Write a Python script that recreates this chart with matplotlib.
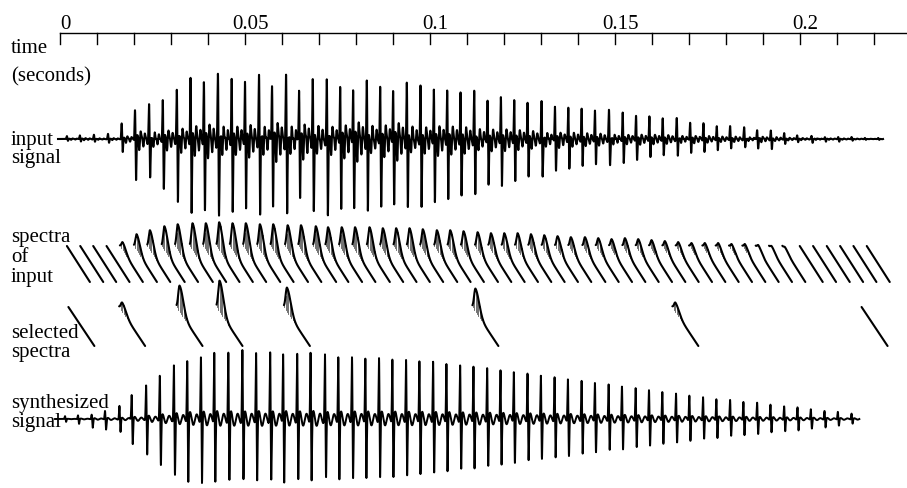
import matplotlib.pyplot as plt
import numpy as np

# time axis
major_ticks = [0, 0.05, 0.1, 0.15, 0.2]
tick_labels = ["0", "0.05", "0.1", "0.15", "0.2"]
minor_ticks = [0.00, 0.01, 0.02, 0.03, 0.04, 0.05, 0.06, 0.07, 0.08, 0.09, 0.10, 0.11,
               0.12, 0.13, 0.14, 0.15, 0.16, 0.17, 0.18, 0.19, 0.20, 0.21, 0.22]

# input signal: pitch pulse times (s) and size of the positive / negative peak
input_times = [0.0020, 0.0055, 0.0093, 0.0131,
               0.0168, 0.0204, 0.0242, 0.0279, 0.0317, 0.0354, 0.0390, 0.0428, 0.0465, 0.0501,
               0.0539, 0.0574, 0.0612, 0.0647, 0.0684, 0.0722, 0.0758, 0.0793, 0.0830, 0.0866,
               0.0901, 0.0938, 0.0975, 0.1011, 0.1047, 0.1083, 0.1120, 0.1156, 0.1192, 0.1228,
               0.1264, 0.1302, 0.1338, 0.1374, 0.1410, 0.1446, 0.1484, 0.1521, 0.1557, 0.1593,
               0.1629, 0.1667, 0.1703, 0.1739, 0.1775, 0.1811, 0.1849, 0.1884, 0.1921, 0.1957,
               0.1992, 0.2031, 0.2067, 0.2103, 0.2139, 0.2175, 0.2211]
input_up = [3, 4, 4, 5,
            16, 31, 33, 39, 48, 61, 60, 62, 59, 60,
            61, 62, 60, 57, 57, 57, 56, 57, 55, 55,
            56, 53, 52, 52, 50, 48, 46, 40, 43, 40,
            37, 36, 34, 32, 31, 29, 28, 26, 24, 23,
            21, 20, 17, 16, 13, 13, 11, 10, 8, 6,
            4, 3, 2, 2, 2, 1, 1]
input_down = [2, 3, 3, 4,
              14, 44, 41, 53, 66, 79, 80, 81, 78, 78,
              80, 78, 79, 69, 78, 80, 78, 80, 78, 76,
              76, 74, 73, 71, 68, 64, 60, 52, 53, 48,
              43, 40, 36, 34, 31, 29, 28, 26, 24, 21,
              19, 18, 16, 15, 13, 11, 9, 11, 11, 6,
              4, 4, 3, 3, 2, 1, 1]
input_span = (-0.0004, 0.2224)

# synthesized signal
synth_times = [0.0015, 0.0050, 0.0087, 0.0123, 0.0162, 0.0195, 0.0234, 0.0271, 0.0309, 0.0345,
               0.0382, 0.0418, 0.0456, 0.0494, 0.0531, 0.0569, 0.0604, 0.0642, 0.0678, 0.0717,
               0.0753, 0.0790, 0.0826, 0.0863, 0.0899, 0.0936, 0.0972, 0.1009, 0.1045, 0.1082,
               0.1118, 0.1155, 0.1191, 0.1227, 0.1264, 0.1300, 0.1337, 0.1373, 0.1410, 0.1446,
               0.1483, 0.1519, 0.1556, 0.1592, 0.1628, 0.1665, 0.1701, 0.1738, 0.1774, 0.1811,
               0.1847, 0.1884, 0.1920, 0.1957, 0.1993, 0.2029, 0.2066, 0.2102, 0.2139]
synth_up = [3, 4, 5, 9, 14, 26, 36, 47, 58, 64,
            68, 73, 72, 74, 72, 72, 72, 71, 73, 69,
            68, 68, 67, 67, 66, 65, 64, 63, 61, 59,
            58, 56, 54, 52, 50, 48, 46, 44, 42, 40,
            38, 36, 34, 32, 30, 28, 26, 24, 22, 21,
            19, 18, 16, 14, 13, 11, 9, 8, 6]
synth_down = [3, 5, 9, 11, 14, 26, 38, 49, 60, 66,
              68, 66, 66, 66, 66, 66, 66, 65, 65, 64,
              64, 63, 62, 62, 61, 60, 58, 57, 55, 53,
              52, 50, 48, 46, 44, 42, 41, 39, 37, 35,
              33, 32, 30, 28, 26, 25, 23, 21, 20, 18,
              17, 16, 14, 13, 12, 10, 9, 7, 5]
synth_span = (-0.0012, 0.2160)

# spectra of input: start time of each spectrum and height of its low-frequency peak
spec_times = [0.0020, 0.0056, 0.0091, 0.0127, 0.0163, 0.0201, 0.0237, 0.0276, 0.0312, 0.0352,
              0.0388, 0.0424, 0.0460, 0.0496, 0.0534, 0.0570, 0.0609, 0.0645, 0.0685, 0.0718,
              0.0755, 0.0791, 0.0830, 0.0866, 0.0902, 0.0938, 0.0974, 0.1012, 0.1048, 0.1084,
              0.1122, 0.1158, 0.1194, 0.1230, 0.1266, 0.1302, 0.1338, 0.1374, 0.1412, 0.1448,
              0.1484, 0.1520, 0.1556, 0.1592, 0.1628, 0.1664, 0.1700, 0.1736, 0.1772, 0.1808,
              0.1844, 0.1880, 0.1916, 0.1952, 0.1999, 0.2035, 0.2072, 0.2108, 0.2144, 0.2180]
spec_peak = [0, 0, 0, 0, 8, 16, 20, 24, 26, 27,
             27, 28, 27, 27, 26, 26, 25, 25, 24, 23,
             23, 23, 23, 22, 22, 22, 21, 20, 20, 19,
             18, 17, 17, 17, 16, 15, 14, 13, 13, 12,
             11, 12, 11, 10, 9, 8, 7, 7, 7, 6,
             6, 5, 4, 3, 0, 0, 0, 0, 0, 0]

# selected spectra
sel_times = [0.0024, 0.0161, 0.0316, 0.0424, 0.0606, 0.1115, 0.1655, 0.2166]
sel_peak = [0, 9, 26, 31, 24, 23, 9, 0]

PX = 1 / 3703          # seconds per pixel
T0 = -59.5 * PX        # time at the left edge of the picture

fig = plt.figure(figsize=(9.07, 4.88), dpi=100)
ax = fig.add_axes([0, 0, 1, 1])
ax.set_xlim(T0, T0 + 907 * PX)
ax.set_ylim(488, 0)
ax.axis("off")

serif = ["Liberation Serif", "DejaVu Serif"]
fs = 15

# time axis
ax.plot([0, T0 + 907 * PX], [33, 33], color="k", lw=1.0)
for t in minor_ticks:
    ax.plot([t, t], [33, 43.5], color="k", lw=1.0)
for t, lab in zip(major_ticks, tick_labels):
    ax.text(t + 5.5 * PX, 29, lab, ha="center", va="baseline", fontsize=fs, family=serif)


def pulse_train(t, times, up, down, ring, cycles, decay, ring2=0.0, cycles2=6.0):
    y = np.zeros_like(t)
    period = 13.6
    for tk, a, b in zip(times, up, down):
        tau = (t - tk) / PX
        near = np.abs(tau) < 40
        tn = tau[near]
        v = a * np.exp(-(tn / 0.6) ** 2) - b * np.exp(-((tn - 1.0) / 0.6) ** 2)
        r = max(a, b)
        after = tn > 1.0
        s = tn[after] - 1.0
        env = np.exp(-s / decay) * (1 - np.exp(-s / 0.8))
        v[after] += r * env * (ring * np.sin(2 * np.pi * cycles * s / period)
                                + ring2 * np.sin(2 * np.pi * cycles2 * s / period + 1.0))
        y[near] += v
    return y


# input signal
t_in = np.arange(input_span[0], input_span[1], 0.04 * PX)
w_in = pulse_train(t_in, input_times, input_up, input_down, 0.26, 3.3, 11.0, 0.10, 6.5)
ax.plot(t_in, 139 - w_in, color="k", lw=1.5)

# synthesized signal
t_sy = np.arange(synth_span[0], synth_span[1], 0.04 * PX)
w_sy = pulse_train(t_sy, synth_times, synth_up, synth_down, 0.09, 2.0, 14.0)
ax.plot(t_sy, 419 - w_sy, color="k", lw=1.4)


def shape(f):
    f = np.asarray(f, dtype=float)
    w = np.where(f < 0.12, 0.075, 0.2)
    return np.exp(-((f - 0.12) / w) ** 2)


def draw_spectrum(t0, amp, top, dx, dy):
    f = np.linspace(0, 1, 400)
    xs = t0 + f * dx * PX
    base = top + f * dy
    if amp >= 6:
        for fh in np.arange(0.01, 0.6, 0.055):
            h = amp * shape(fh)
            if h > 2.0:
                xh = t0 + fh * dx * PX
                ax.plot([xh, xh], [top + fh * dy, top + fh * dy - h], color="0.35", lw=0.6)
    ax.plot(xs, base - amp * shape(f), color="k", lw=1.5, solid_capstyle="round")


for t0, a in zip(spec_times, spec_peak):
    draw_spectrum(t0, a, 246, 23, 36)

for t0, a in zip(sel_times, sel_peak):
    draw_spectrum(t0, a, 307, 26, 39)

# row labels (baselines)
labels = [("time", 53), ("(seconds)", 81), ("input", 145), ("signal", 163),
          ("spectra", 242), ("of", 262), ("input", 282),
          ("selected", 338), ("spectra", 357),
          ("synthesized", 408), ("signal", 427)]
for txt, y in labels:
    ax.text(T0 + 11 * PX, y, txt, ha="left", va="baseline", fontsize=fs, family=serif)

plt.savefig("out.png", dpi=100)
